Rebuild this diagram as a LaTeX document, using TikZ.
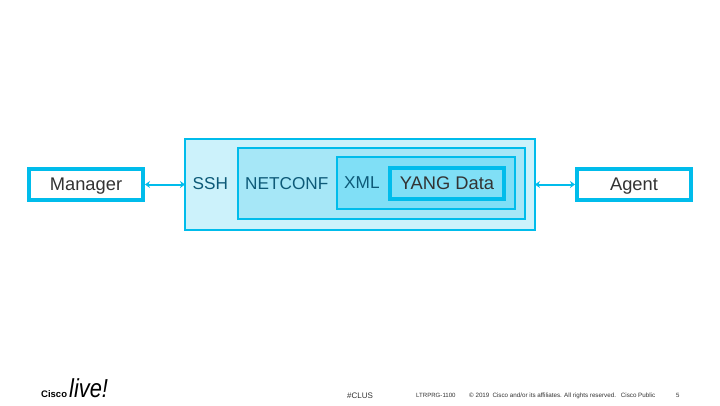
\documentclass[tikz,border=0pt]{standalone}
\usepackage{fontspec}
\setmainfont{Liberation Sans}
\usetikzlibrary{arrows.meta}
\definecolor{cyanline}{HTML}{00BCEB}
\definecolor{ssh}{HTML}{CCF2FB}
\definecolor{netconf}{HTML}{A6E7F7}
\definecolor{xmlc}{HTML}{80DFF6}
\definecolor{darktext}{HTML}{0D5A78}
\definecolor{graytext}{HTML}{333333}
\tikzset{
  x=1pt,y=-1pt,
  thinbox/.style={draw=cyanline,line width=2pt,anchor=north west,inner sep=0pt,outer sep=0pt},
  thickbox/.style={draw=cyanline,line width=4pt,anchor=north west,inner sep=0pt,outer sep=0pt,text height=14pt,text depth=3pt,font=\fontsize{18.3}{20}\selectfont,text=graytext},
  lbl/.style={font=\fontsize{17.2}{20}\selectfont,text=darktext,inner sep=0pt},
  foot/.style={inner sep=0pt,text=graytext},
  link/.style={draw=cyanline,line width=2pt,{Stealth[length=5pt,width=7pt]}-{Stealth[length=5pt,width=7pt]}}
}
\begin{document}
\begin{tikzpicture}
\useasboundingbox (0,0) rectangle (720,405);
\fill[white] (0,0) rectangle (720,405);
\node[thickbox,fill=white,minimum width=114pt,minimum height=31pt] (manager) at (29,169) {Manager};
\node[thickbox,fill=white,minimum width=114pt,minimum height=31pt] (agent) at (577,169) {Agent};
\node[thinbox,fill=ssh,minimum width=350pt,minimum height=91pt] (sshbox) at (185,139) {};
\node[thinbox,fill=netconf,minimum width=287pt,minimum height=71pt] (netconfbox) at (238,148) {};
\node[thinbox,fill=xmlc,minimum width=178pt,minimum height=52pt] (xmlbox) at (337,157) {};
\node[thickbox,fill=xmlc,minimum width=114pt,minimum height=31pt] (yang) at (390,168) {YANG Data};
\node[lbl,anchor=west] (sshlabel) at (192.5,184) {SSH};
\node[lbl,anchor=west] (netconflabel) at (245,184) {NETCONF};
\node[lbl,anchor=west] (xmllabel) at (344,183) {XML};
\coordinate (m1) at ([xshift=2pt]manager.east);
\coordinate (m2) at (sshbox.west |- m1);
\coordinate (a1) at (sshbox.east |- agent.west);
\coordinate (a2) at ([xshift=-2pt]agent.west);
\draw[link] (m1) -- (m2);
\draw[link] (a1) -- (a2);
\node[foot,font=\fontsize{8}{9}\selectfont,anchor=west] (clus) at (347,395.5) {\#CLUS};
\node[foot,font=\fontsize{6.1}{7}\selectfont,anchor=west] (code) at (416,395.5) {LTRPRG-1100};
\node[foot,font=\fontsize{6.25}{7}\selectfont,anchor=west] (copy) at (469,395.5) {© 2019\enspace Cisco and/or its affiliates. All rights reserved.\enspace\ Cisco Public};
\node[foot,font=\fontsize{6.1}{7}\selectfont,anchor=west] (page) at (676,395.5) {5};
\node[inner sep=0pt,anchor=west,text=black,font=\fontsize{9.5}{11}\selectfont\bfseries] (cisco) at (41,394.5) {Cisco};
\node[inner sep=0pt,anchor=west,text=black,xscale=0.84,font=\fontsize{26}{28}\selectfont\itshape] (live) at (69,388.5) {live!};
\end{tikzpicture}
\end{document}
